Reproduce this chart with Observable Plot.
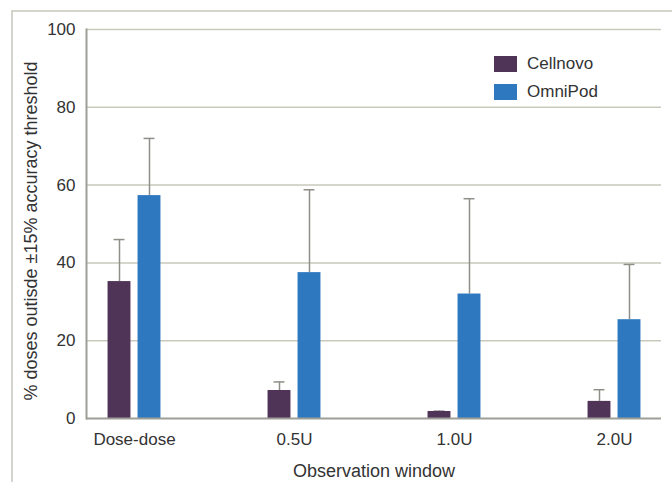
<!DOCTYPE html>
<html>
<head>
<meta charset="utf-8">
<script src="https://cdn.jsdelivr.net/npm/d3@7"></script>
<script src="https://cdn.jsdelivr.net/npm/@observablehq/plot@0.6"></script>
<style>
  html, body { margin: 0; padding: 0; background: #fff; }
  #wrap { position: relative; width: 672px; height: 482px; overflow: hidden; font-family: "Liberation Sans", Arial, sans-serif; }
  #border { position: absolute; left: 11px; top: 10px; width: 700px; height: 500px; border-top: 2px solid #d4d4cc; border-left: 2px solid #d4d4cc; }
  #legend { position: absolute; left: 494px; top: 50px; font-size: 17px; color: #333; }
  .item { display: flex; align-items: center; height: 28px; }
  .sw { width: 23px; height: 16px; margin-right: 10px; }
  #chart { position: absolute; left: 0; top: 0; }
</style>
</head>
<body>
<div id="wrap">
  <div id="border"></div>
  <div id="chart"></div>
  <div id="legend"></div>
</div>
<script>
const categories = ["Dose-dose", "0.5U", "1.0U", "2.0U"];
const series = ["Cellnovo", "OmniPod"];
const colors = ["#4f3457", "#2e78bf"];
const cellnovoValues = [35.2, 7.2, 1.8, 4.4];
const cellnovoUpper = [46.0, 9.4, 1.9, 7.4];
const omnipodValues = [57.3, 37.5, 32.0, 25.4];
const omnipodUpper = [72.0, 58.8, 56.5, 39.6];
const yTicks = [0, 20, 40, 60, 80, 100];
const yTitle = "% doses outisde ±15% accuracy threshold";
const xTitle = "Observation window";

const W = 672, H = 482, mL = 86, mR = 11, mT = 29, mB = 64;
const pInner = 0.5, pOuter = 0.045;
const step = (W - mL - mR) / (categories.length - pInner + 2 * pOuter);
const bandwidth = step * (1 - pInner);
const barW = 23, gap = 7, off = (barW + gap) / 2;
const inset = (bandwidth - barW) / 2;
const capW = 11, capInset = (bandwidth - capW) / 2;

const data = [];
categories.forEach((c, i) => {
  data.push({cat: c, series: "Cellnovo", value: cellnovoValues[i], upper: cellnovoUpper[i]});
  data.push({cat: c, series: "OmniPod", value: omnipodValues[i], upper: omnipodUpper[i]});
});
const dC = data.filter(d => d.series === "Cellnovo");
const dO = data.filter(d => d.series === "OmniPod");

const errColor = "#8f8f88";
const chart = Plot.plot({
  width: W, height: H,
  marginLeft: mL, marginRight: mR, marginTop: mT, marginBottom: mB,
  style: {fontFamily: "Liberation Sans, Arial, sans-serif", fontSize: "17px", color: "#333", background: "transparent"},
  x: {domain: categories, paddingInner: pInner, paddingOuter: pOuter, label: null},
  y: {domain: [0, 100], label: null},
  color: {domain: series, range: colors},
  marks: [
    Plot.ruleY(yTicks.filter(t => t > 0), {stroke: "#c9c9bd", strokeWidth: 1.5}),
    Plot.ruleX(dC, {x: "cat", y1: "value", y2: "upper", dx: -off, stroke: errColor, strokeWidth: 1.5}),
    Plot.ruleX(dO, {x: "cat", y1: "value", y2: "upper", dx: off, stroke: errColor, strokeWidth: 1.5}),
    Plot.tickY(dC, {x: "cat", y: "upper", dx: -off, insetLeft: capInset, insetRight: capInset, stroke: errColor, strokeWidth: 1.5}),
    Plot.tickY(dO, {x: "cat", y: "upper", dx: off, insetLeft: capInset, insetRight: capInset, stroke: errColor, strokeWidth: 1.5}),
    Plot.barY(dC, {x: "cat", y: "value", fill: "series", dx: -off, insetLeft: inset, insetRight: inset}),
    Plot.barY(dO, {x: "cat", y: "value", fill: "series", dx: off, insetLeft: inset, insetRight: inset}),
    Plot.ruleY([0], {stroke: "#9e9e98", strokeWidth: 2}),
    Plot.frame({anchor: "left", stroke: "#9e9e98", strokeWidth: 2}),
    Plot.axisY({ticks: yTicks, tickSize: 0, tickPadding: 11, fontSize: 17, label: null}),
    Plot.text([yTitle], {frameAnchor: "left", rotate: -90, textAnchor: "middle", lineAnchor: "bottom", dx: -50, dy: 7, fontSize: 18, fill: "#333"}),
    Plot.axisX({tickSize: 0, tickPadding: 14, fontSize: 17, label: null}),
    Plot.axisX({ticks: [], tickSize: 0, fontSize: 18, label: xTitle, labelAnchor: "center", labelArrow: "none", labelOffset: 58})
  ]
});
document.getElementById("chart").appendChild(chart);

const legend = document.getElementById("legend");
series.forEach((s, i) => {
  const it = document.createElement("div");
  it.className = "item";
  it.innerHTML = `<div class="sw" style="background:${colors[i]}"></div><span>${s}</span>`;
  legend.appendChild(it);
});
</script>
</body>
</html>
